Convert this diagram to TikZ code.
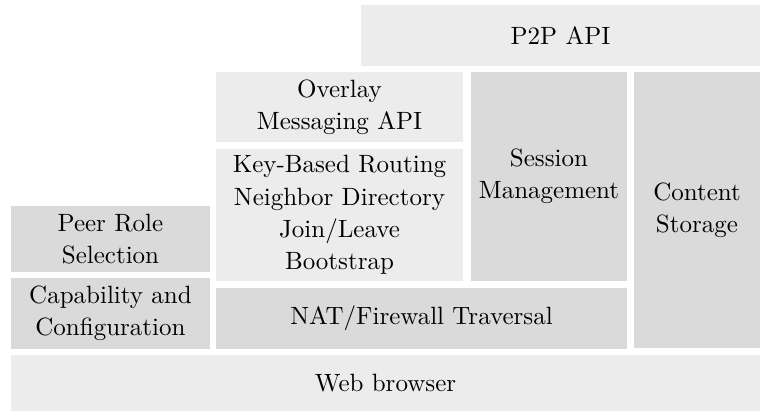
\documentclass[tikz,border=0pt]{standalone}
\definecolor{lightbox}{RGB}{236,236,236}
\definecolor{darkbox}{RGB}{218,218,218}
\begin{document}
\begin{tikzpicture}[x=0.4pt,y=-0.4pt,
  box/.style={inner sep=0pt, outer sep=0pt, draw=none, align=center, anchor=center,
    font=\fontsize{10}{12.9}\selectfont},
  lbox/.style={box, fill=lightbox},
  dbox/.style={box, fill=darkbox}]
\useasboundingbox (0,0) rectangle (760,411);
\node[lbox, minimum width=159.6pt, minimum height=24.4pt] (p2p) at (560.5,35.5) {P2P API};
\node[lbox, minimum width=98.8pt, minimum height=28pt] (overlay) at (339.5,107) {Overlay\\Messaging API};
\node[lbox, minimum width=98.8pt, minimum height=52.8pt] (kbr) at (339.5,215) {Key-Based Routing\\Neighbor Directory\\Join/Leave\\Bootstrap};
\node[dbox, minimum width=62.4pt, minimum height=83.6pt] (session) at (549,176.5) {Session\\Management};
\node[dbox, minimum width=50.4pt, minimum height=110.4pt] (content) at (697,210) {Content\\Storage};
\node[dbox, minimum width=79.6pt, minimum height=26.4pt] (peer) at (110.5,239) {Peer Role\\Selection};
\node[dbox, minimum width=79.6pt, minimum height=28.4pt] (cap) at (110.5,313.5) {Capability and\\Configuration};
\node[dbox, minimum width=164.4pt, minimum height=24.4pt] (nat) at (421.5,318.5) {NAT/Firewall Traversal};
\node[lbox, minimum width=299.6pt, minimum height=22.4pt] (web) at (385.5,383) {Web browser};
\end{tikzpicture}
\end{document}
